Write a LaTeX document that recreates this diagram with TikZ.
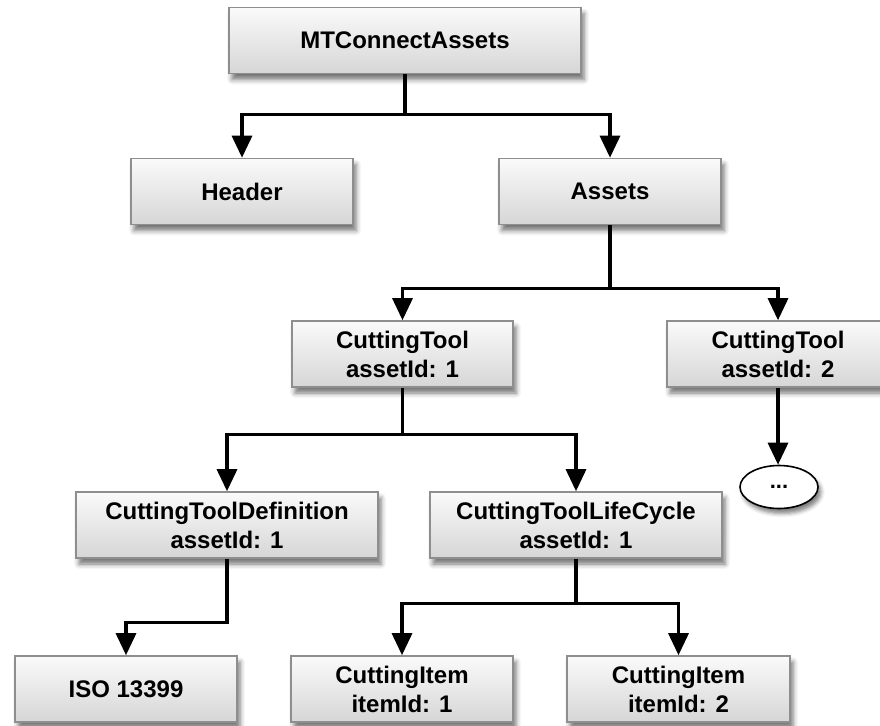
\documentclass[tikz,border=0pt]{standalone}
\usepackage{fontspec}
\setmainfont{Liberation Sans}
\usetikzlibrary{arrows.meta,shapes.geometric,shadows.blur}

\definecolor{boxedge}{HTML}{8E8E8E}
\definecolor{boxtop}{HTML}{FAFAFA}
\definecolor{boxbottom}{HTML}{D6D6D6}

\tikzset{
  element/.style={
    draw=boxedge, line width=1.6pt,
    top color=boxtop, bottom color=boxbottom,
    minimum height=66pt, inner sep=0pt, align=center,
    font=\fontsize{24}{29}\selectfont\bfseries,
    blur shadow={shadow xshift=3pt, shadow yshift=-6pt,
                 shadow blur radius=5pt, shadow opacity=55}
  },
  more/.style={
    ellipse, draw=black, line width=1.6pt, fill=white,
    minimum width=78pt, minimum height=43pt, inner sep=0pt,
    font=\fontsize{22}{24}\selectfont\bfseries,
    blur shadow={shadow xshift=3pt, shadow yshift=-5pt,
                 shadow blur radius=4pt, shadow opacity=50}
  },
  link/.style={
    draw=black, line width=3.2pt,
    -{Triangle[width=20pt,length=22pt]}
  }
}

\begin{document}
\begin{tikzpicture}[x=1pt,y=-1pt]
  \useasboundingbox (0,0) rectangle (880,725);
  \clip (0,0) rectangle (880,725);

  % document root and its two children
  \node[element, minimum width=352pt] (root)   at (405,40.5)  {MTConnectAssets};
  \node[element, minimum width=222pt] (header) at (242,191.5) {Header};
  \node[element, minimum width=222pt] (assets) at (610,191.5) {Assets};

  % cutting tool assets
  \node[element, minimum width=221pt] (tool1) at (402.5,354) {CuttingTool\\assetId: 1};
  \node[element, minimum width=222pt] (tool2) at (778,354)   {CuttingTool\\assetId: 2};
  \node[more] (etc) at (779,487) {...};

  % parts of the first cutting tool
  \node[element, minimum width=302pt] (def)  at (227,525)  {CuttingToolDefinition\\assetId: 1};
  \node[element, minimum width=292pt] (life) at (576,525)  {CuttingToolLifeCycle\\assetId: 1};

  % leaves
  \node[element, minimum width=222pt] (iso)   at (126,689)   {ISO 13399};
  \node[element, minimum width=222pt] (item1) at (402,689)   {CuttingItem\\itemId: 1};
  \node[element, minimum width=223pt] (item2) at (678.5,689) {CuttingItem\\itemId: 2};

  % connectors
  \draw[link] (root.south) -- ++(0,40) -| (header.north);
  \draw[link] (root.south) -- ++(0,40) -| (assets.north);

  \draw[link] (assets.south) -- ++(0,63) -| (tool1.north);
  \draw[link] (assets.south) -- ++(0,63) -| (tool2.north);

  \draw[link] (tool2.south) -- (etc.north -| tool2.south);

  \draw[link] (tool1.south) -- ++(0,47) -| (def.north);
  \draw[link] (tool1.south) -- ++(0,47) -| (life.north);

  \draw[link] (def.south) -- ++(0,64) -| (iso.north);

  \draw[link] (life.south) -- ++(0,45) -| (item1.north);
  \draw[link] (life.south) -- ++(0,45) -| (item2.north);
\end{tikzpicture}
\end{document}
